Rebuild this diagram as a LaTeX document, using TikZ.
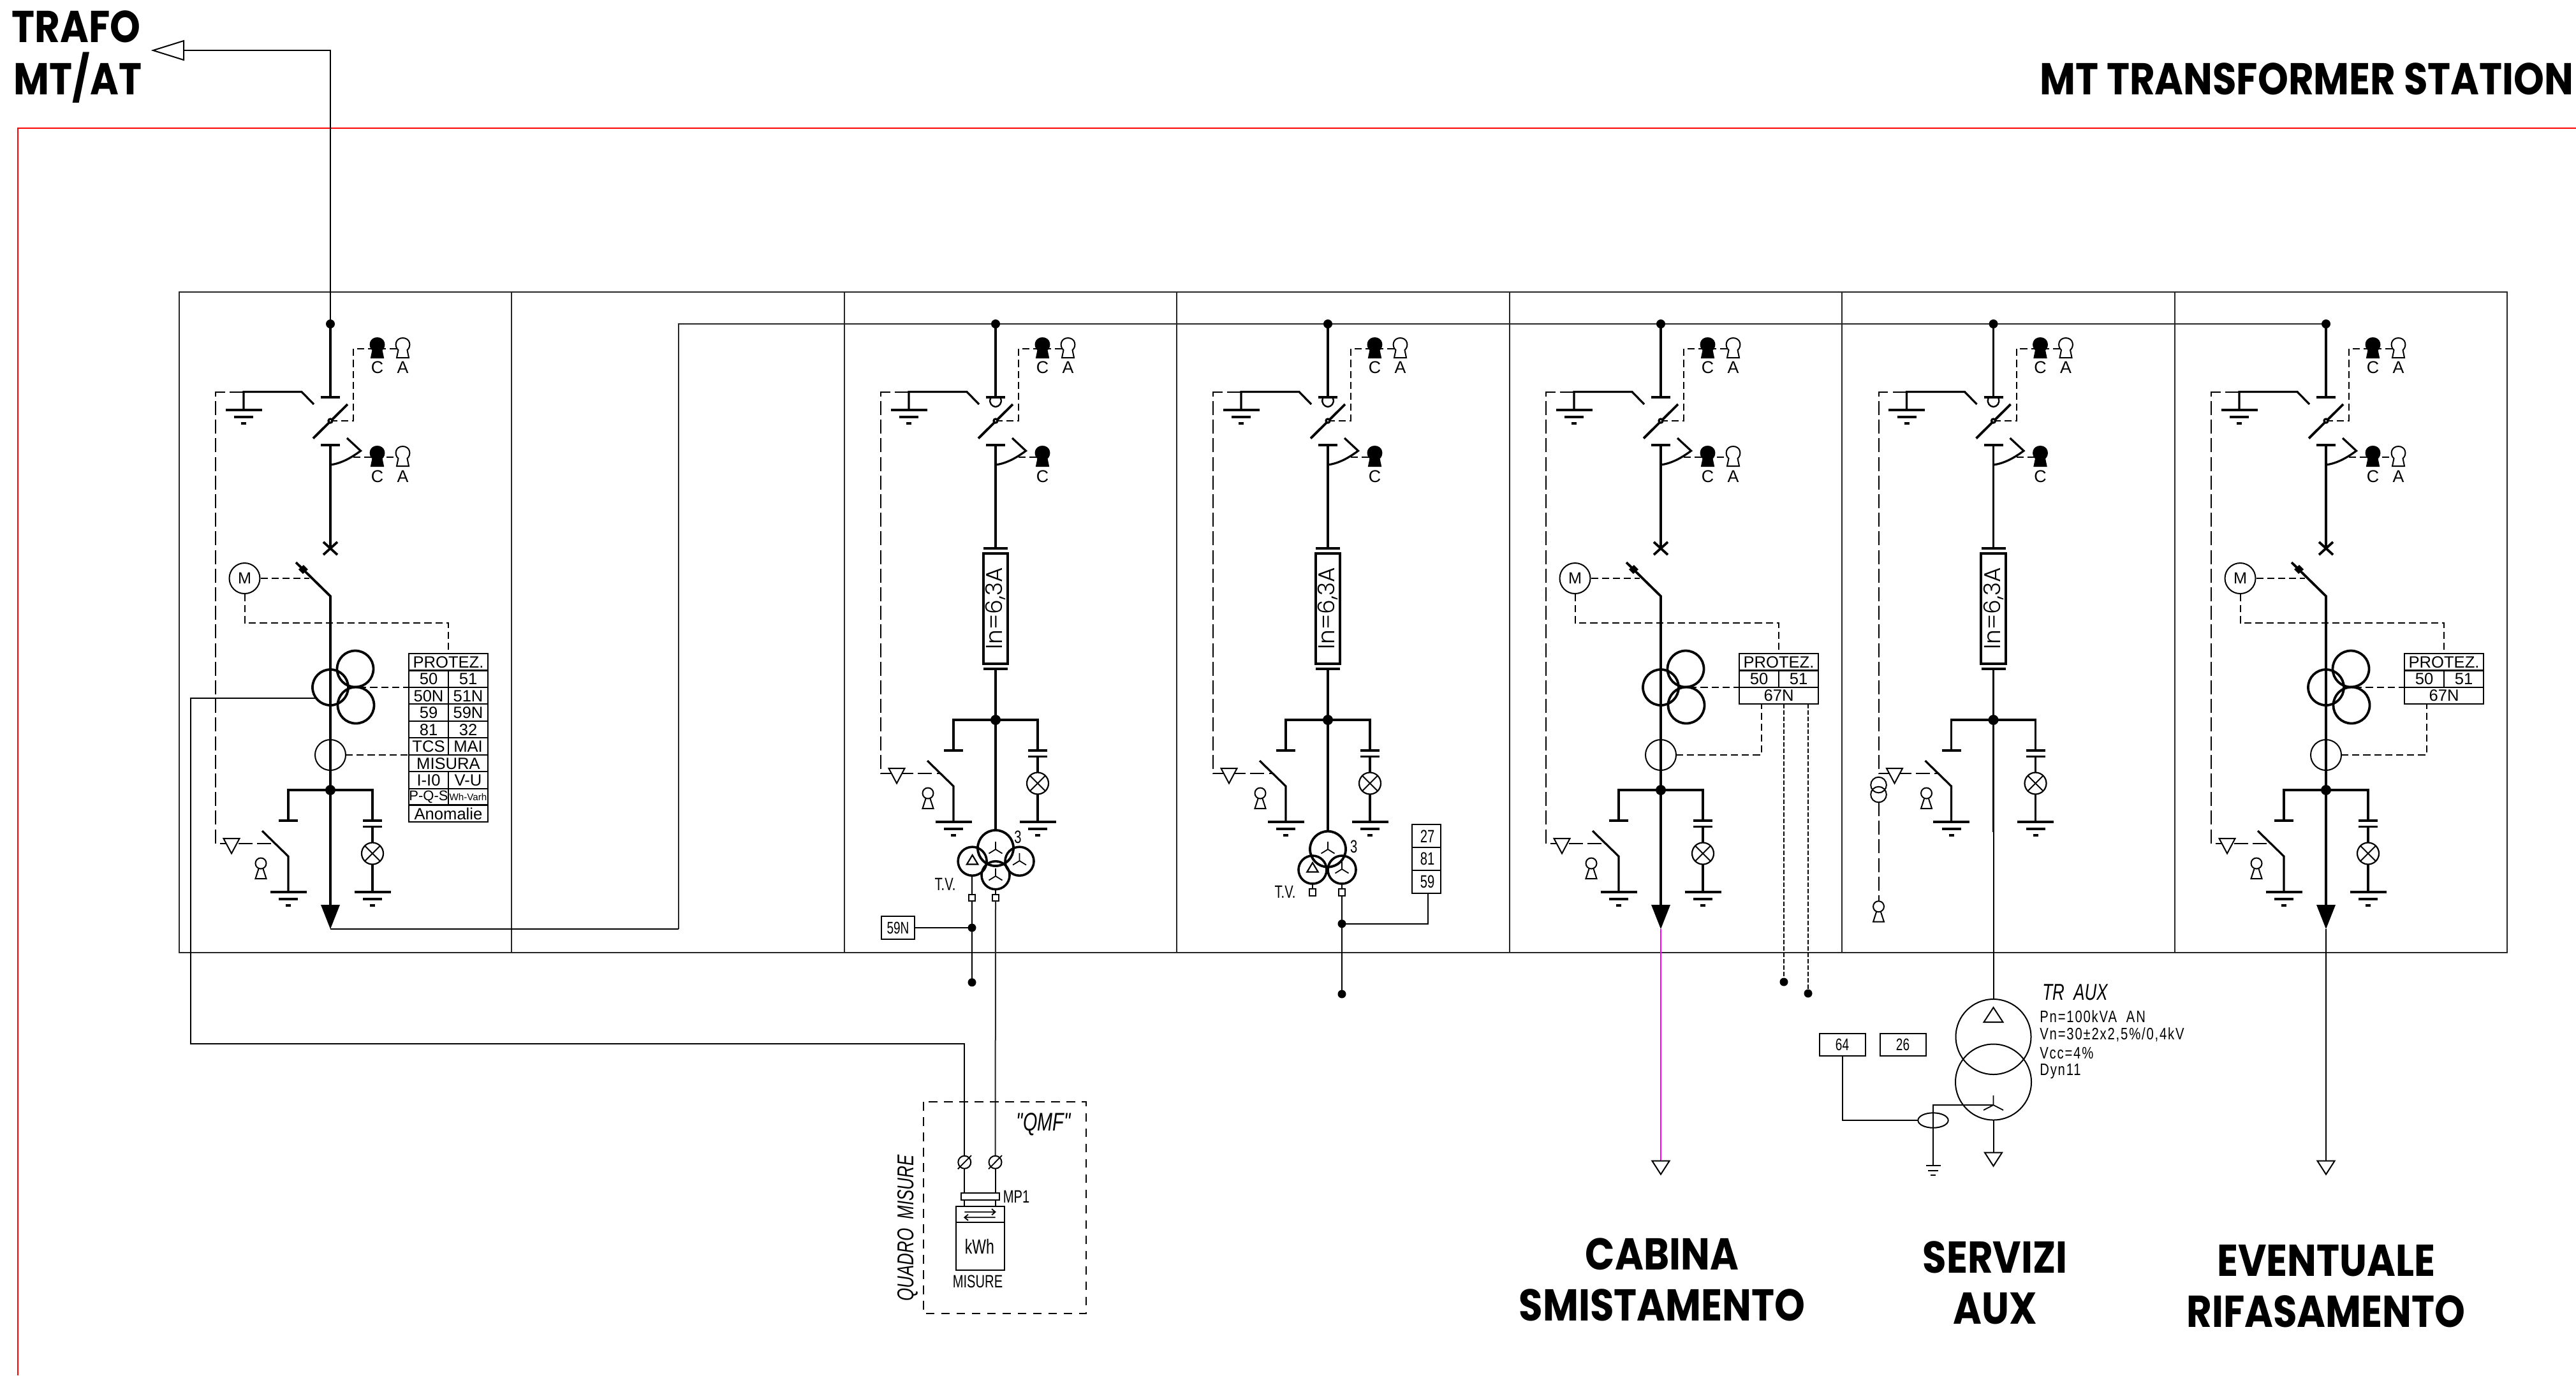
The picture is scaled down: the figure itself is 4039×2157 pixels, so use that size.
\documentclass[tikz,border=0pt]{standalone}
\usepackage{fontspec}
\newfontfamily\headfont[FakeStretch=.87]{Poppins}
\newfontfamily\relfont{Liberation Sans}
\newfontfamily\cadfont[FakeStretch=.72]{Liberation Sans}
\newfontfamily\cadwide[FakeStretch=.78,LetterSpace=7]{Liberation Sans}
\newfontfamily\fusefont{Poppins Light}
\definecolor{feeder}{RGB}{255,0,255}
\tikzset{
 heavy/.style={line width=.95pt},
 mid/.style={line width=.8pt},
 thinw/.style={line width=.5pt},
 panel/.style={line width=.6pt,black!85},
 longdash/.style={line width=.5pt,dash pattern=on 5.5pt off 1.8pt},
 shortdash/.style={line width=.5pt,dash pattern=on 2.8pt off 1.5pt},
 finedash/.style={line width=.6pt,dash pattern=on 1.7pt off .8pt},
 boxdash/.style={line width=.5pt,dash pattern=on 3.4pt off 2.6pt},
 head/.style={font=\headfont\bfseries\fontsize{17.5}{20}\selectfont,inner sep=0pt},
 rel/.style={font=\relfont\fontsize{6.4}{7}\selectfont,inner sep=0pt},
 relkey/.style={font=\relfont\fontsize{6.7}{7}\selectfont,inner sep=0pt},
 cad/.style={font=\cadfont\fontsize{7}{8}\selectfont,inner sep=0pt},
 cadsm/.style={font=\cadfont\fontsize{6.6}{7}\selectfont,inner sep=0pt},
 spec/.style={font=\cadwide\fontsize{6.5}{7}\selectfont,inner sep=0pt,anchor=west},
 caditalic/.style={font=\cadfont\itshape\fontsize{9}{10}\selectfont,inner sep=0pt},
 fuselabel/.style={font=\fusefont\fontsize{9}{10}\selectfont,inner sep=0pt,rotate=90},
}
% a round dot, a ring; radii are in pixels of the reference
\newcommand\Dotp[3]{\fill (#1,#2) circle[radius=#3*.25pt];}
\newcommand\Ring[4][thinw]{\draw[#1] (#2,#3) circle[radius=#4*.25pt];}
\newcommand\Earth[2]{%
 \draw[mid] (#1-28.5,#2)--(#1+28.5,#2);
 \draw[mid] (#1-15,#2+11)--(#1+15,#2+11);
 \draw[mid] (#1-4,#2+21)--(#1+4,#2+21);}
% key: x, y of the head top, fill colour
\newcommand\Key[3]{%
 \draw[line width=.5pt,fill=#3] (#1-7,#2+19) .. controls (#1-14,#2+13) and (#1-11.5,#2) .. (#1,#2)
   .. controls (#1+11.5,#2) and (#1+14,#2+13) .. (#1+7,#2+19) -- (#1+9.5,#2+31) -- (#1-9.5,#2+31) -- cycle;}
\newcommand\SmallKey[2]{%
 \draw[line width=.5pt,fill=white] (#1-3,#2+7) -- (#1-8.5,#2+24) -- (#1+8.5,#2+24) -- (#1+3,#2+7) -- cycle;
 \draw[line width=.5pt,fill=white] (#1,#2) circle[radius=8.5*.25pt];}
\newcommand\StarS[2]{\draw[line width=.45pt] (#1,#2-12)--(#1,#2) (#1-10.5,#2+6.5)--(#1,#2)--(#1+10.5,#2+6.5);}
\newcommand\TriS[2]{\draw[line width=.55pt] (#1,#2-9)--(#1+8.7,#2+5.5)--(#1-8.7,#2+5.5)--cycle;}
\newcommand\OpenTri[2]{\draw[line width=.5pt,fill=white] (#1-13.5,#2)--(#1+13.5,#2)--(#1,#2+21)--cycle;}
% top of a bay: id, has the ring under the contact (1/0), second key row has A (1/0)
\newcommand\BayTop[3]{%
 \coordinate (#1top) at (0,508);
 \coordinate (#1cu) at (0,623);
 \coordinate (#1piv) at (0,660);
 \coordinate (#1cl) at (0,698);
 \draw[heavy] (#1top)--(#1cu);
 \Dotp{0}{508}{7}
 \draw[heavy] (-15,623)--(15,623);
 \ifnum#2=1
 \draw[line width=.6pt] (-8,625) .. controls (-11,632) and (-5,638) .. (0,638) .. controls (5,638) and (11,632) .. (8,625);
 \fi
 \draw[heavy] (-27,687.5)--(27,634);
 \draw[heavy] (-15,698)--(15,698);
 \coordinate (#1et) at (-136,614.5);
 \coordinate (#1eb) at (-136,643);
 \draw[mid] (#1eb)--(#1et)--(-45,614.5)--(-26,634);
 \Earth{-136}{643}
 \draw[shortdash] (#1piv)--(36,660)--(36,547)--(113,547);
 \Ring[line width=.8pt,fill=white]{0}{660}{3}
 \Key{73.5}{530}{black}
 \Key{113.5}{530}{white}
 \node[relkey] (#1c) at (73.5,576) {C};
 \node[relkey] (#1a) at (113.5,576) {A};
 \draw[shortdash] (36,717)--(\ifnum#3=1 113\else 73\fi,717);
 \draw[mid] (0,729) .. controls (15,727) and (30,720) .. (47.5,707) -- (26,687);
 \Key{73.5}{700}{black}
 \node[relkey] (#1cc) at (73.5,747) {C};
 \ifnum#3=1
 \Key{113.5}{700}{white}
 \node[relkey] (#1aa) at (113.5,747) {A};
 \fi
}
% earthing branch and lamp: id, vertical shift, x of the small key
\newcommand\BayLow[3]{%
 \draw[longdash] (#1et)--(-180,614.5)--(-180,{1323+#2})--(-88,{1323+#2});
 \begin{scope}[shift={(0,#2)}]
 \coordinate (#1bus) at (0,1239);
 \draw[heavy] (-66,1287)--(-66,1239)--(66,1239)--(66,1287);
 \Dotp{0}{1239}{8}
 \draw[mid] (-81,1287)--(-51,1287);
 \draw[mid] (51,1287)--(81,1287);
 \draw[mid] (51,1296.5)--(81,1296.5);
 \draw[mid] (66,1296.5)--(66,1399);
 \draw[line width=.55pt,fill=white] (66,1338.5) circle[radius=17*.25pt];
 \draw[line width=.5pt] (54,1326.5)--(78,1350.5) (54,1350.5)--(78,1326.5);
 \draw[mid] (-107,1303)--(-66,1343)--(-66,1399);
 \Earth{66}{1399}
 \Earth{-66}{1399}
 \draw[line width=.5pt,fill=white] (-167.5,1315)--(-142.5,1315)--(-155,1338.5)--cycle;
 \SmallKey{#3}{1354}
 \end{scope}
}
% breaker bay
\newcommand\BayCB[1]{%
 \coordinate (#1cbt) at (0,860);
 \coordinate (#1cbb) at (0,935);
 \coordinate (#1tip) at (0,1457);
 \draw[heavy] (#1cl)--(#1cbt);
 \draw[heavy] (-11,850)--(11,870) (-11,870)--(11,850);
 \draw[heavy] (-54,882)--(#1cbb)--(0,1419);
 \fill (-50,893)--(-42,886)--(-35,893)--(-43,900)--cycle;
 \node[draw,circle,line width=.5pt,minimum size=12pt,inner sep=0pt,font=\relfont\fontsize{6.3}{7}\selectfont] (#1m) at (-134.5,907) {M};
 \coordinate (#1mk) at (-33,907);
 \draw[shortdash] (#1m)--(#1mk);
 \coordinate (#1tb) at (185,1025);
 \draw[shortdash] (#1m.south)|-(185,977)--(#1tb);
 \draw[line width=.95pt] (0,1078) circle[radius=28*.25pt];
 \draw[line width=.95pt] (39,1049) circle[radius=28.5*.25pt];
 \draw[line width=.95pt] (40,1106) circle[radius=28.5*.25pt];
 \draw[shortdash] (28,1078)--(123,1078);
 \Ring{0}{1184}{24}
 \fill (-15,1419)--(15,1419)--(0,1457)--cycle;
}
% fuse bay: id
\newcommand\BayFuse[1]{%
 \draw[heavy] (#1cl)--(0,859.6);
 \draw[heavy] (-19,859.6)--(19,859.6) (-19,1049)--(19,1049);
 \draw[line width=1pt] (-19.3,868) rectangle (19.3,1041);
 \node[fuselabel] (#1fuse) at (0,954) {In=6,3A};
 \draw[heavy] (0,1049)--(0,1129);
}
% upper part of the protection table
\newcommand\RelHead[1]{%
 \draw[line width=.55pt] (123,1025) rectangle (247,1078) (123,1051.4)--(247,1051.4) (185,1051.4)--(185,1078);
 \node[rel] (#1p) at (185,1039) {PROTEZ.};
 \node[rel] (#1t50) at (154,1065) {50};
 \node[rel] (#1t51) at (216,1065) {51};
}
\newcommand\Cell[4][rel]{\node[#1] (#2) at #3 {#4};}
\begin{document}
\begin{tikzpicture}[x=.25pt,y=-.25pt]
\useasboundingbox (0,0) rectangle (4039,2157);
% red frame
\draw[red,line width=.5pt] (28,2157)--(28,201)--(4039,201);
% headings
\node[head,anchor=west] (trafo) at (18,42) {TRAFO};
\node[head,anchor=west] (mtat) at (21,122) {MT/AT};
\node[head,anchor=east] (station) at (4036,124) {MT TRANSFORMER STATION};
\node[head] (cab1) at (2606,1967) {CABINA};
\node[head] (cab2) at (2606,2047) {SMISTAMENTO};
\node[head] (srv1) at (3128,1972) {SERVIZI};
\node[head] (srv2) at (3128,2052) {AUX};
\node[head] (rif1) at (3647,1977) {EVENTUALE};
\node[head] (rif2) at (3647,2057) {RIFASAMENTO};
% panel grid
\coordinate (bustip) at (3647,508);
\draw[panel] (281,458) rectangle (3931,1494);
\foreach \x in {802,1324,1845,2367,2888,3410} \draw[panel] (\x,458)--(\x,1494);
% bus and feeder lines
\coordinate (busl) at (1064,508);
\coordinate (busb) at (1064,1457);
\draw[line width=.5pt,black!85] (busb)--(busl)--(bustip);
\draw[line width=.5pt] (518,1457)--(busb);
\coordinate (trafoarrow) at (288,79);
\draw[line width=.5pt] (518,508)--(518,79)--(trafoarrow);
\draw[line width=.5pt,fill=white] (240,79)--(288,64)--(288,94)--cycle;
% bay 1
\begin{scope}[shift={(518,0)}]
 \BayTop{a}{0}{1}
 \BayLow{a}{0}{-109}
 \BayCB{a}
 \draw[line width=.55pt] (123,1025) rectangle (247,1288.6);
 \foreach \yy in {1051.4,1078,1104,1131,1157,1184,1210,1237,1262.5} \draw[line width=.55pt] (123,\yy)--(247,\yy);
 \draw[line width=.55pt] (185,1051.4)--(185,1184) (185,1210)--(185,1262.5);
 \Cell{at0}{(185,1039)}{PROTEZ.}
 \Cell{at1}{(154,1065)}{50}\Cell{at2}{(216,1065)}{51}
 \Cell{at3}{(154,1091.5)}{50N}\Cell{at4}{(216,1091.5)}{51N}
 \Cell{at5}{(154,1118)}{59}\Cell{at6}{(216,1118)}{59N}
 \Cell{at7}{(154,1144.5)}{81}\Cell{at8}{(216,1144.5)}{32}
 \Cell{at9}{(154,1171)}{TCS}\Cell{at10}{(216,1171)}{MAI}
 \Cell{at11}{(185,1197.5)}{MISURA}
 \Cell{at12}{(154,1224)}{I-I0}\Cell{at13}{(216,1224)}{V-U}
 \node[rel,font=\relfont\fontsize{5.5}{6}\selectfont] (at14) at (154,1250) {P-Q-S};
 \node[rel,font=\relfont\fontsize{3.8}{4}\selectfont] (at15) at (216,1250) {Wh-Varh};
 \Cell{at16}{(185,1276)}{Anomalie}
 \draw[shortdash] (24,1184)--(123,1184);
 \coordinate (actw) at (-24,1095);
\end{scope}
\coordinate (acl) at (298.6,1095);
\coordinate (acd) at (298.6,1637);
\coordinate (acr) at (1512.3,1637);
\coordinate (tmL) at (1512.3,1822.7);
\draw[line width=.5pt] (actw)--(acl)--(acd)--(acr)--(tmL);
% bay 3
\begin{scope}[shift={(1561,0)}]
 \BayTop{c}{1}{0}
 \BayFuse{c}
 \BayLow{c}{-110}{-106}
 \draw[heavy] (0,1129)--(0,1303);
 \draw[line width=.95pt] (0,1330) circle[radius=28*.25pt];
 \draw[line width=.9pt] (-36.4,1350.7) circle[radius=22.5*.25pt];
 \draw[line width=.9pt] (37.5,1350.7) circle[radius=22.5*.25pt];
 \draw[line width=.9pt] (0,1372.7) circle[radius=22*.25pt];
 \StarS{0}{1332}\StarS{37.5}{1350}\StarS{0}{1374}
 \TriS{-36.4}{1350}
 \node[cad] (c3) at (35,1313) {3};
 \node[cad] (ctv) at (-79,1387) {T.V.};
 \draw[line width=.5pt] (-37,1373)--(-37,1403) (0,1394.5)--(0,1403);
 \draw[line width=.5pt,fill=white] (-42,1403) rectangle (-32,1413);
 \draw[line width=.5pt,fill=white] (-5,1403) rectangle (5,1413);
 \coordinate (cwl) at (-37,1413);
 \coordinate (cwb) at (-37,1540.7);
 \coordinate (cwj) at (-37,1455);
 \coordinate (cwr) at (0,1413);
 \draw[line width=.55pt] (cwl)--(cwb);
 \Dotp{-37}{1455}{6.5}
 \Dotp{-37}{1540.7}{6.5}
 \node[draw,line width=.5pt,cadsm,minimum width=13pt,minimum height=9pt] (c59n) at (-153,1455) {59N};
 \draw[line width=.5pt] (c59n)--(cwj);
\end{scope}
% metering panel
\coordinate (tmR) at (1560.5,1822.7);
\draw[line width=.5pt,black!85] (cwr)--(tmR);
\draw[boxdash] (1447.5,1728) rectangle (1702.7,2060);
\draw[line width=.5pt] (tmL)--(1512.3,1891.7) (tmR)--(1560.5,1891.7);
\draw[line width=.5pt,fill=white] (1512.3,1822.7) circle[radius=10*.25pt];
\draw[line width=.5pt,fill=white] (1560.5,1822.7) circle[radius=10*.25pt];
\draw[line width=.45pt] (1501.8,1833.4)--(1523,1812) (1550,1833.4)--(1571,1812);
\draw[line width=.55pt,fill=white] (1506.7,1870.7) rectangle (1566.7,1882);
\draw[line width=.5pt] (1499,1891.7) rectangle (1574.7,1992) (1499,1917)--(1574.7,1917);
\draw[line width=.45pt] (1512.3,1900.7)--(1560.5,1900.7) (1555,1896)--(1560.5,1900.7)--(1555,1905.4);
\draw[line width=.45pt] (1560.5,1909.3)--(1512.3,1909.3) (1518,1904.6)--(1512.3,1909.3)--(1518,1914);
\node[cad,anchor=west] (mp1) at (1572,1877) {MP1};
\node[cad,font=\cadfont\fontsize{8}{9}\selectfont] (kwh) at (1536,1955) {kWh};
\node[cad] (mis) at (1533,2010) {MISURE};
\node[caditalic,font=\cadfont\itshape\fontsize{10}{11}\selectfont] (qmf) at (1636,1763) {"QMF"};
\node[caditalic,rotate=90] (qm) at (1423,1926) {QUADRO\ \ MISURE};
% bay 4
\begin{scope}[shift={(2082,0)}]
 \BayTop{d}{1}{0}
 \BayFuse{d}
 \BayLow{d}{-110}{-106}
 \draw[heavy] (0,1129)--(0,1304);
 \draw[line width=.95pt] (0,1331.7) circle[radius=28*.25pt];
 \draw[line width=.9pt] (-24,1364) circle[radius=22*.25pt];
 \draw[line width=.9pt] (22,1364) circle[radius=22*.25pt];
 \StarS{0}{1332}\StarS{22}{1363}
 \TriS{-24}{1362}
 \node[cad] (d3) at (40.7,1327.7) {3};
 \node[cad] (dtv) at (-67,1399) {T.V.};
 \draw[line width=.5pt] (-24,1386)--(-24,1394) (22,1386)--(22,1394);
 \draw[line width=.5pt,fill=white] (-29,1394) rectangle (-19,1404.5);
 \draw[line width=.5pt,fill=white] (17,1394) rectangle (27,1404.5);
 \coordinate (dwt) at (22,1404.5);
 \coordinate (dwb) at (22,1559);
 \coordinate (dwj) at (22,1448.7);
 \draw[line width=.55pt] (dwt)--(dwb);
 \Dotp{22}{1448.7}{6.5}
 \Dotp{22}{1559}{6.5}
 \draw[line width=.55pt] (132,1293.3) rectangle (176.7,1401) (132,1329.3)--(176.7,1329.3) (132,1365)--(176.7,1365);
 \node[cad] (d27) at (156,1311.3) {27};
 \node[cad] (d81) at (156,1347) {81};
 \node[cad] (d59) at (156,1383) {59};
 \coordinate (drb) at (156.7,1401);
 \draw[line width=.55pt] (drb)--(156.7,1448.7)--(dwj);
\end{scope}
% bay 5
\begin{scope}[shift={(2604,0)}]
 \BayTop{e}{0}{1}
 \BayLow{e}{0}{-109}
 \BayCB{e}
 \RelHead{e}
 \draw[line width=.55pt] (123,1078) rectangle (247,1104);
 \node[rel] (e67) at (185,1091) {67N};
 \draw[shortdash] (24,1184)--(158,1184)--(158,1104);
 \draw[finedash] (193,1104)--(193,1540);
 \draw[finedash] (231,1104)--(231,1558);
 \Dotp{193}{1540}{6.5}
 \Dotp{231}{1558}{6.5}
 \coordinate (eout) at (0,1820.7);
 \draw[feeder,line width=.6pt] (etip)--(eout);
 \OpenTri{0}{1820.7}
\end{scope}
% bay 6
\begin{scope}[shift={(3125.5,0)}]
 \BayTop{f}{1}{0}
 \BayFuse{f}
 \BayLow{f}{-110}{-105}
 \draw[heavy] (0,1129)--(0,1305);
 \coordinate (ftrt) at (0,1567);
 \draw[line width=.5pt] (0,1305)--(ftrt);
 % CT and key on the earthing interlock
 \draw[longdash] (-180,1258)--(-180,1413);
 \draw[line width=.5pt] (-180,1231) circle[radius=12.3*.25pt];
 \draw[line width=.5pt] (-180,1246) circle[radius=12.3*.25pt];
 \SmallKey{-180}{1421.7}
 % transformer
 \draw[line width=.5pt] (0,1626) circle[radius=59*.25pt];
 \draw[line width=.5pt] (0,1697) circle[radius=59.5*.25pt];
 \draw[line width=.5pt] (0,1580)--(15,1603)--(-15,1603)--cycle;
 \draw[line width=.45pt] (0,1718)--(0,1733) (-15.5,1741)--(0,1733)--(15.5,1741);
 \coordinate (ftrb) at (0,1757);
 \coordinate (fout) at (0,1807.7);
 \draw[line width=.5pt] (ftrb)--(fout);
 \OpenTri{0}{1807.7}
 \coordinate (fstar) at (0,1733);
 \coordinate (fen) at (-94.5,1828);
 \draw[line width=.5pt] (fstar)--(-94.5,1733)--(fen);
 \draw[line width=.5pt] (-94.5-11.5,1828)--(-94.5+11.5,1828) (-94.5-8,1835.5)--(-94.5+8,1835.5);
 \draw[line width=.6pt] (-94.5-4,1843)--(-94.5+4,1843);
 \draw[line width=.5pt] (-94.5,1757) ellipse[x radius=23.7*.25pt,y radius=11.7*.25pt];
 \node[draw,line width=.5pt,cadsm,minimum width=18pt,minimum height=8.9pt] (f64) at (-237,1638.3) {64};
 \node[draw,line width=.5pt,cadsm,minimum width=18pt,minimum height=8.9pt] (f26) at (-142,1638.3) {26};
 \coordinate (fctl) at (-118.2,1757);
 \draw[line width=.5pt] (f64.south)|-(fctl);
 \node[caditalic,anchor=west] (ftr) at (76,1556) {TR\ \ AUX};
 \node[spec] (fp1) at (72,1594) {Pn=100kVA\ \ AN};
 \node[spec] (fp2) at (72,1622.7) {Vn=30±2x2,5\%/0,4kV};
 \node[spec] (fp3) at (72,1651.7) {Vcc=4\%};
 \node[spec] (fp4) at (72,1680) {Dyn11};
\end{scope}
% bay 7
\begin{scope}[shift={(3647,0)}]
 \BayTop{g}{0}{1}
 \BayLow{g}{0}{-109}
 \BayCB{g}
 \RelHead{g}
 \draw[line width=.55pt] (123,1078) rectangle (247,1104);
 \node[rel] (g67) at (185,1091) {67N};
 \draw[shortdash] (24,1184)--(158,1184)--(158,1104);
 \coordinate (gout) at (0,1820.7);
 \draw[line width=.5pt] (gtip)--(gout);
 \OpenTri{0}{1820.7}
\end{scope}
\end{tikzpicture}
\end{document}
